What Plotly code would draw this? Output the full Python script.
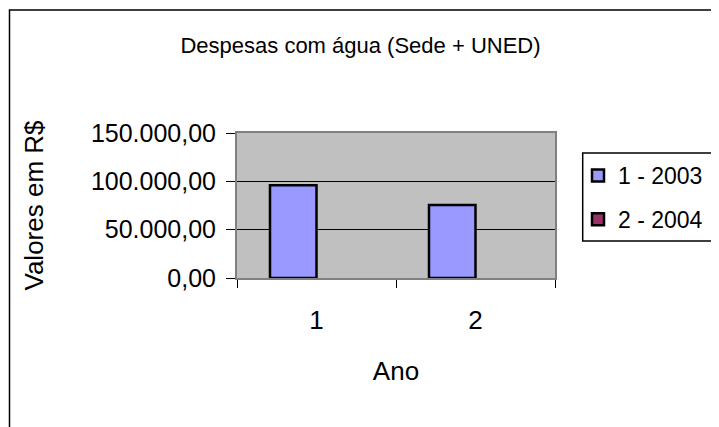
import plotly.graph_objects as go

# ── Dados ─────────────────────────────────────────────────────────────────────
anos       = ["1", "2"]
serie_2003 = [96000, 75500]
serie_2004 = [None, None]      # série sem valores no gráfico original
nomes      = ["1 - 2003", "2 - 2004"]

COR_2003   = "#9999ff"
COR_2004   = "#993366"
COR_FUNDO  = "#c0c0c0"
COR_EIXO   = "#808080"
FONTE      = "Liberation Sans, Arial, sans-serif"

W, H = 719, 427
OFF = 8   # a página desloca a figura 8 px (margem do body)

# área de plotagem (px, coordenadas da figura)
PX_L, PX_R, PX_T, PX_B = 237 - OFF, 555 - OFF, 133 - OFF, 278 - OFF

fig = go.Figure()

for nome, valores, cor, grp in [(nomes[0], serie_2003, COR_2003, "a"),
                                (nomes[1], serie_2004, COR_2004, "b")]:
    fig.add_trace(go.Bar(
        x=anos, y=valores, name=nome,
        marker=dict(color=cor, line=dict(color="black", width=2.5)),
        legendgroup=grp,
    ))

fig.update_layout(
    template="none",
    width=W, height=H,
    barmode="group", bargap=0.415, bargroupgap=0,
    separators=",.",
    paper_bgcolor="white", plot_bgcolor=COR_FUNDO,
    font=dict(family=FONTE, size=25, color="black"),
    margin=dict(l=PX_L, r=W - PX_R, t=PX_T, b=H - PX_B, autoexpand=False),
    title=dict(text="Despesas com água (Sede + UNED)",
               font=dict(size=22),
               x=(360.5 - OFF) / W, xref="container", xanchor="center",
               y=1 - (45 - OFF) / H, yref="container", yanchor="middle"),
    legend=dict(x=(578 - OFF) / W, xref="container", xanchor="left",
                y=1 - (154 - OFF) / H, yref="container", yanchor="top",
                bgcolor="rgba(0,0,0,0)", borderwidth=0,
                traceorder="grouped", tracegroupgap=11,
                font=dict(size=23)),
    showlegend=True,
)

fig.update_xaxes(
    type="category", showgrid=False, automargin=False,
    showline=True, linecolor=COR_EIXO, linewidth=2, mirror=True,
    ticks="outside", tickson="boundaries", ticklen=8, tickcolor="black",
    ticklabelstandoff=18, tickfont=dict(size=26),
    title=dict(text="Ano", standoff=28, font=dict(size=26)),
)
fig.update_yaxes(
    range=[0, 150000], dtick=50000, tickformat=",.2f", automargin=False,
    showgrid=True, gridcolor="black", gridwidth=1, zeroline=False,
    showline=True, linecolor=COR_EIXO, linewidth=2, mirror=True,
    ticks="outside", ticklen=9, tickcolor="black",
    ticklabelstandoff=5,
    title=dict(text="Valores em R$", standoff=40, font=dict(size=26)),
)

# moldura do gráfico (continua além da janela) e caixa da legenda
pw, ph = PX_R - PX_L, PX_B - PX_T
fig.add_shape(type="rect", xref="paper", yref="paper",
              x0=(9.5 - OFF - PX_L) / pw, x1=(W + 20 - PX_L) / pw,
              y0=(PX_B - (H + 20)) / ph, y1=(PX_B - (10 - OFF)) / ph,
              line=dict(color="black", width=1.5), layer="below")
fig.add_shape(type="rect", xref="paper", yref="paper",
              x0=(582.7 - OFF - PX_L) / pw, x1=(W + 20 - PX_L) / pw,
              y0=(PX_B - (241 - OFF)) / ph, y1=(PX_B - (153 - OFF)) / ph,
              line=dict(color="black", width=1.5))

fig.write_html("out.html")
